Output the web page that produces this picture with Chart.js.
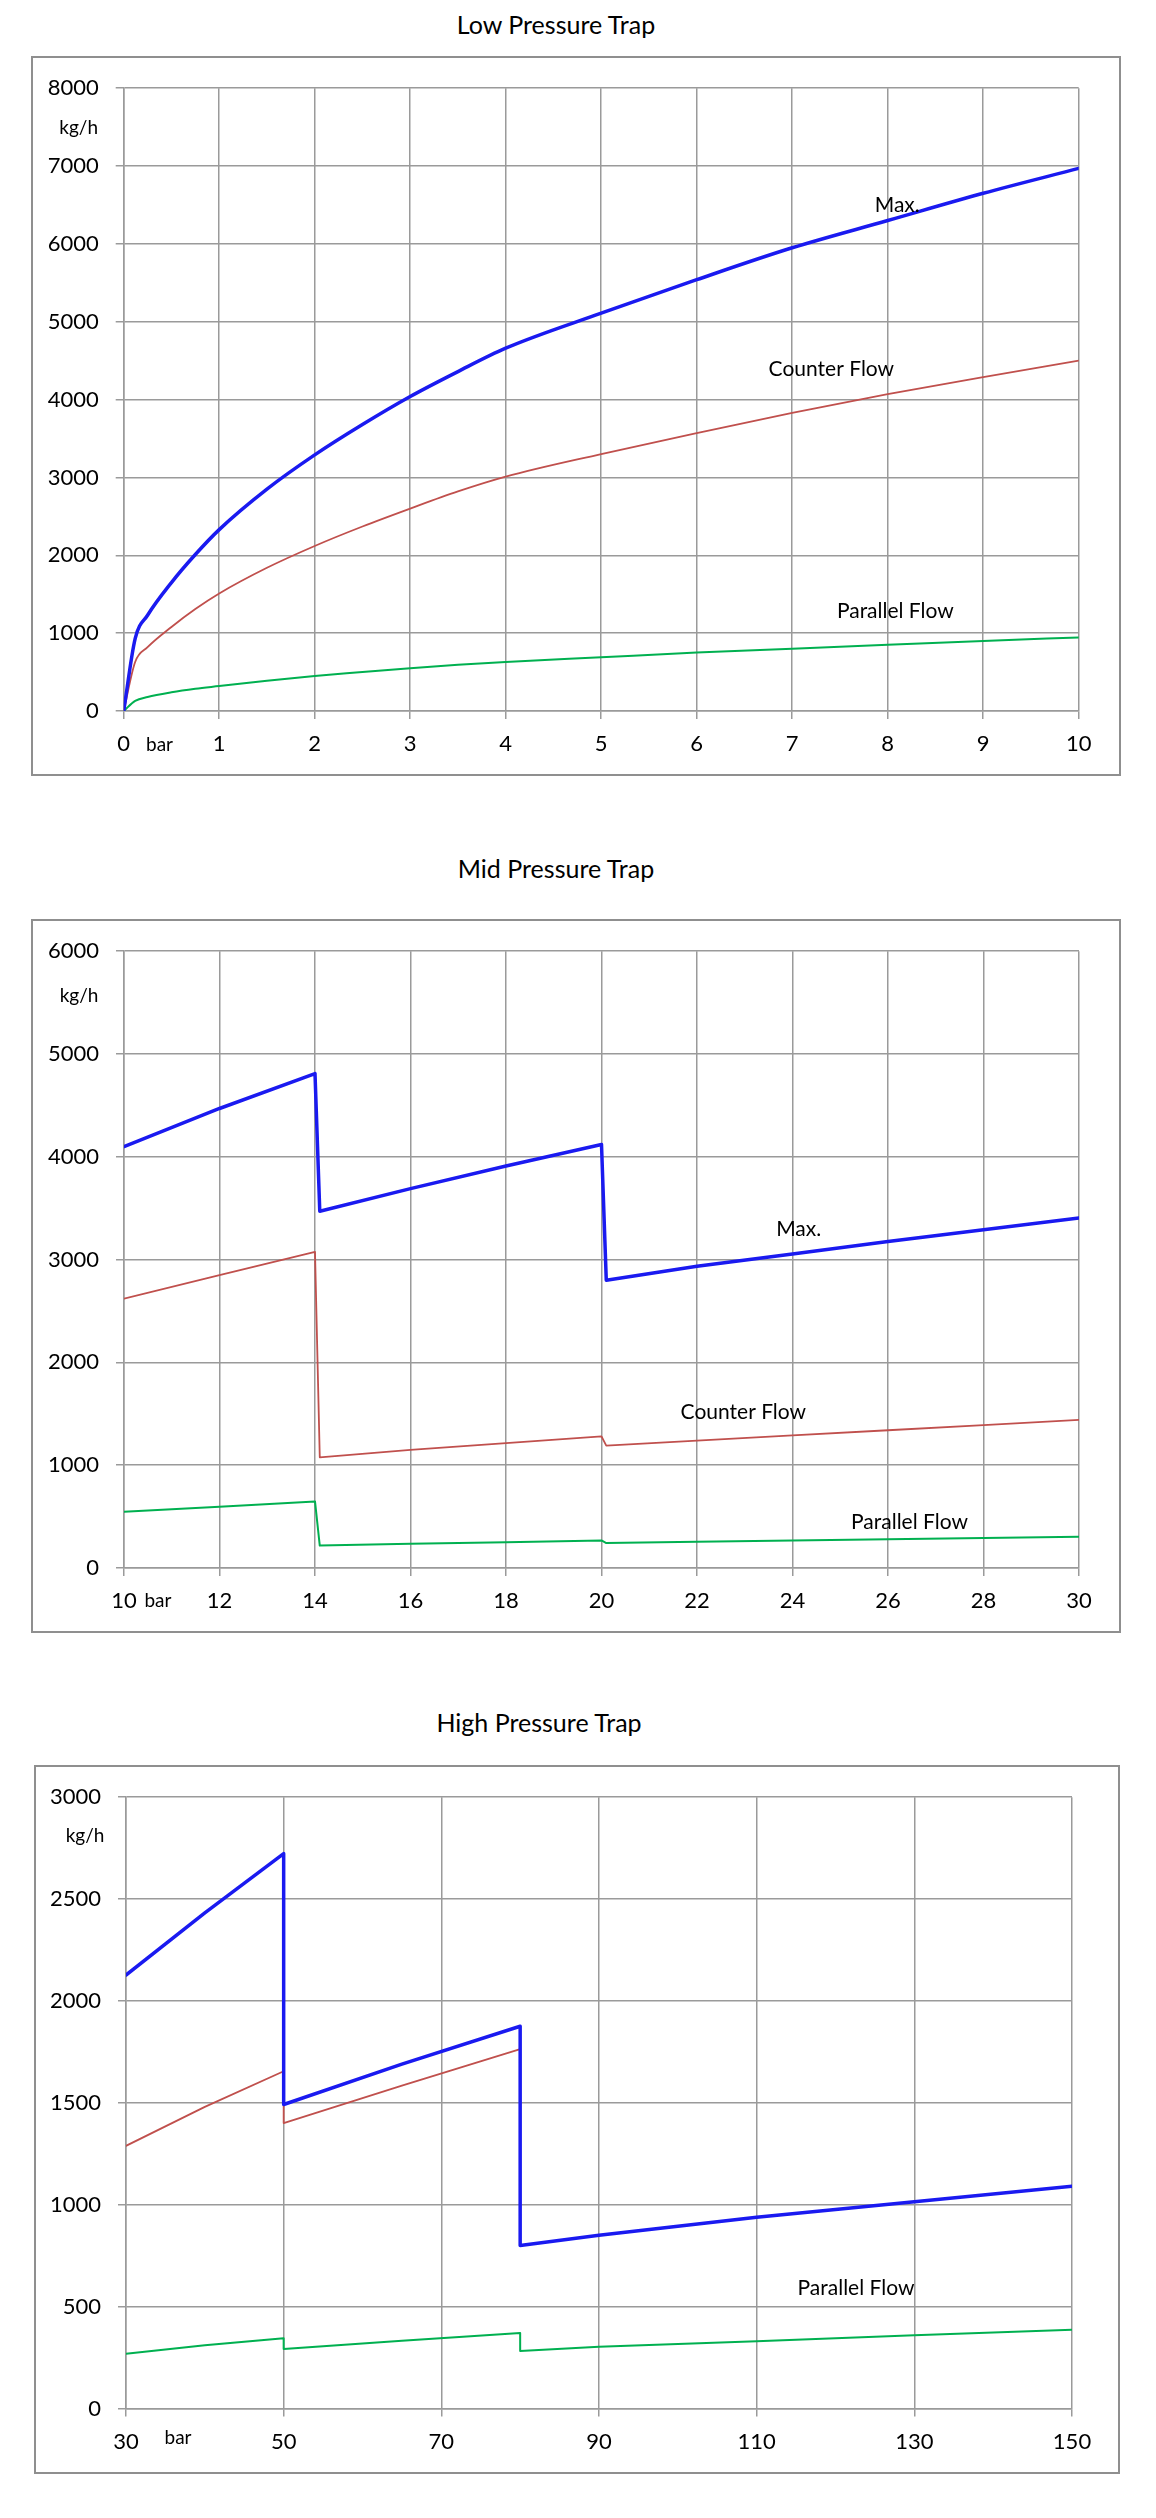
<!DOCTYPE html>
<html>
<head>
<meta charset="utf-8">
<script src="https://cdn.jsdelivr.net/npm/chart.js@4.4.0/dist/chart.umd.min.js"></script>
<style>
body { margin: 0; background: #fff; width: 1156px; height: 2518px; position: relative; font-family: Lato, sans-serif; }
.title { position: absolute; font-size: 25px; color: #000; transform: translate(-50%, -50%); white-space: nowrap; }
.box { position: absolute; border: 2px solid #8f8f8f; box-sizing: border-box; }
</style>
</head>
<body>
<div class="title" style="left:556px;top:24px">Low Pressure Trap</div>
<div class="box" style="left:31px;top:56px;width:1090px;height:720px"><canvas id="lowChart"></canvas></div>

<div class="title" style="left:556px;top:868px">Mid Pressure Trap</div>
<div class="box" style="left:31px;top:919px;width:1090px;height:714px"><canvas id="midChart"></canvas></div>

<div class="title" style="left:539px;top:1722px">High Pressure Trap</div>
<div class="box" style="left:34px;top:1765px;width:1086px;height:709px"><canvas id="highChart"></canvas></div>

<script>
// values (pressure in bar, capacity in kg/h)
var lowPressure  = [0, 0.12, 0.25, 0.5, 0.75, 1, 1.5, 2, 2.5, 3, 3.5, 4, 5, 6, 7, 8, 9, 10];
var lowMax       = [0, 930, 1230, 1650, 2010, 2330, 2850, 3290, 3680, 4040, 4360, 4660, 5110, 5540, 5950, 6300, 6650, 6970];
var lowCounter   = [0, 630, 820, 1080, 1310, 1510, 1840, 2120, 2370, 2600, 2820, 3010, 3300, 3570, 3830, 4070, 4290, 4500];
var lowParallel  = [0, 130, 180, 240, 285, 320, 390, 450, 500, 550, 595, 630, 690, 750, 800, 850, 900, 945];

var midPressure  = [10, 12, 14, 14.1, 16, 18, 20, 20.1, 22, 24, 26, 28, 30];
var midMax       = [4100, 4470, 4810, 3470, 3690, 3910, 4120, 2800, 2935, 3055, 3175, 3290, 3405];
var midCounter   = [2620, 2850, 3075, 1077, 1150, 1215, 1280, 1190, 1240, 1290, 1340, 1390, 1440];
var midParallel  = [546, 597, 648, 218, 235, 250, 268, 243, 255, 267, 279, 291, 303];

var highPressure = [30, 40, 50, 50, 65, 80, 80, 90, 110, 130, 150];
var highMax      = [2127, 2432, 2723, 1492, 1690, 1876, 800, 850, 939, 1015, 1091];
var highCounter  = [1289, 1480, 1655, 1401, 1585, 1764, null, null, null, null, null];
var highParallel = [269, 310, 345, 292, 333, 370, 282, 303, 330, 360, 386];

// curve labels written inside the plots
var lowNotes  = [{ text: 'Max.', x: 8.1, y: 6500 }, { text: 'Counter Flow', x: 7.41, y: 4390 }, { text: 'Parallel Flow', x: 8.08, y: 1280 }];
var midNotes  = [{ text: 'Max.', x: 24.13, y: 3293 }, { text: 'Counter Flow', x: 22.97, y: 1517 }, { text: 'Parallel Flow', x: 26.45, y: 445 }];
var highNotes = [{ text: 'Parallel Flow', x: 122.6, y: 589 }];

var gridColor = '#9a9a9a';

function toPoints(xs, ys)
{
    var pts = [];
    for (let i = 0; i < xs.length; i++)
    {
        if (ys[i] !== null) pts.push({ x: xs[i], y: ys[i] });
    }
    return pts;
}

// writes the curve names, the kg/h unit and the bar unit
function notesPlugin(notes, axis)
{
    return {
        id: 'notes',
        afterDraw: function(chart) {
            var ctx = chart.ctx;
            var xs = chart.scales.x, ys = chart.scales.y, area = chart.chartArea;
            ctx.save();
            ctx.fillStyle = '#000';
            ctx.textAlign = 'center';
            ctx.textBaseline = 'middle';
            ctx.font = '21px Lato';
            notes.forEach(function(n) {
                ctx.fillText(n.text, xs.getPixelForValue(n.x), ys.getPixelForValue(n.y));
            });
            ctx.font = '19px Lato';
            ctx.fillText('kg/h', area.left - axis.unitDx, area.top + axis.unitDy);
            ctx.fillText('bar', xs.getPixelForValue(axis.barAt), area.bottom + axis.barDy);
            ctx.restore();
        }
    };
}

function drawTrapChart(canvasId, pressure, max, counter, parallel, notes, axis)
{
    var ctx = document.getElementById(canvasId).getContext('2d');
    var smooth = axis.smooth ? 'monotone' : 'default';
    return new Chart(ctx, {
        type: 'line',
        data: {
            datasets: [
                { data: toPoints(pressure, max), borderColor: '#1a1af0', borderWidth: 3.5, cubicInterpolationMode: smooth },
                { data: toPoints(pressure, counter), borderColor: '#c0504d', borderWidth: 1.8, cubicInterpolationMode: smooth },
                { data: toPoints(pressure, parallel), borderColor: '#00b050', borderWidth: 2, cubicInterpolationMode: smooth }
            ]
        },
        options: {
            responsive: true,
            maintainAspectRatio: false,
            animation: false,
            elements: { point: { radius: 0 }, line: { tension: 0, borderCapStyle: 'round', borderJoinStyle: 'round' } },
            layout: { padding: { top: axis.padTop, right: axis.padRight, left: 0, bottom: 0 } },
            plugins: { legend: { display: false }, tooltip: { enabled: false } },
            scales: {
                x: {
                    type: 'linear',
                    min: axis.xMin,
                    max: axis.xMax,
                    ticks: { stepSize: axis.xStep, color: '#000', padding: 12, font: { family: 'Lato', size: 22 },
                             callback: function(v) { return String(v); } },
                    grid: { color: gridColor, lineWidth: 1.5, tickLength: 8 },
                    border: { color: gridColor, width: 1.5 },
                    afterFit: function(scale) { scale.height = axis.xHeight; }
                },
                y: {
                    min: 0,
                    max: axis.yMax,
                    ticks: { stepSize: axis.yStep, color: '#000', padding: 17, font: { family: 'Lato', size: 22 },
                             callback: function(v) { return String(v); } },
                    grid: { color: gridColor, lineWidth: 1.5, tickLength: 8 },
                    border: { color: gridColor, width: 1.5 },
                    afterFit: function(scale) { scale.width = axis.yWidth; }
                }
            }
        },
        plugins: [notesPlugin(notes, axis)]
    });
}

function drawAll()
{
    drawTrapChart('lowChart', lowPressure, lowMax, lowCounter, lowParallel, lowNotes,
        { xMin: 0, xMax: 10, xStep: 1, yMax: 8000, yStep: 1000, smooth: true,
          yWidth: 90.7, xHeight: 63, padTop: 27.3, padRight: 40.3,
          unitDx: 45, unitDy: 40, barAt: 0.375, barDy: 34 });
    drawTrapChart('midChart', midPressure, midMax, midCounter, midParallel, midNotes,
        { xMin: 10, xMax: 30, xStep: 2, yMax: 6000, yStep: 1000, smooth: false,
          yWidth: 91, xHeight: 63, padTop: 27, padRight: 40,
          unitDx: 45, unitDy: 45, barAt: 10.71, barDy: 33 });
    drawTrapChart('highChart', highPressure, highMax, highCounter, highParallel, highNotes,
        { xMin: 30, xMax: 150, xStep: 20, yMax: 3000, yStep: 500, smooth: false,
          yWidth: 90, xHeight: 63.5, padTop: 26.7, padRight: 46,
          unitDx: 41, unitDy: 39, barAt: 36.6, barDy: 29 });
}

document.fonts.load('22px Lato').then(drawAll, drawAll);
</script>
</body>
</html>
